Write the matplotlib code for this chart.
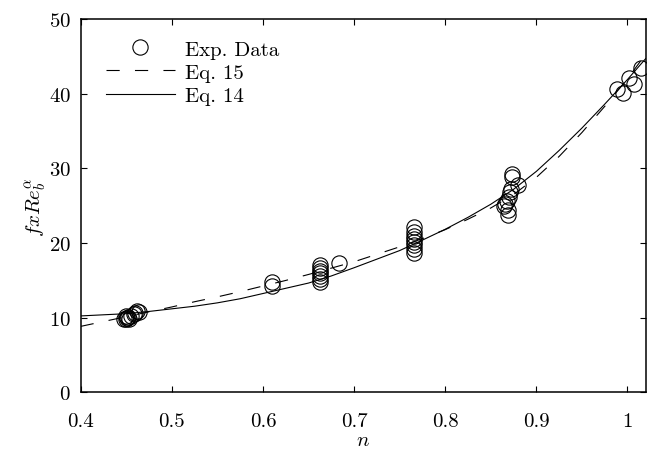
import numpy as np
import matplotlib
matplotlib.use('Agg')
import matplotlib.pyplot as plt

plt.rcParams['font.family'] = 'serif'
plt.rcParams['font.serif'] = ['cmr10']
plt.rcParams['mathtext.fontset'] = 'cm'
plt.rcParams['axes.formatter.use_mathtext'] = True
plt.rcParams['lines.scale_dashes'] = False

# experimental points
n_exp = [0.448, 0.450, 0.451, 0.452, 0.453, 0.450, 0.455, 0.458, 0.460, 0.462, 0.464,
         0.610, 0.610,
         0.663, 0.663, 0.663, 0.663, 0.663, 0.663, 0.663, 0.683,
         0.766, 0.766, 0.766, 0.766, 0.766, 0.766, 0.766, 0.766,
         0.873, 0.873, 0.872, 0.871, 0.870, 0.868, 0.866, 0.865, 0.869, 0.869, 0.880,
         0.988, 0.995, 1.002, 1.007, 1.015]
f_exp = [9.8, 9.9, 10.0, 10.1, 9.9, 10.2, 10.3, 10.5, 10.7, 10.9, 10.8,
         14.8, 14.3,
         14.8, 15.2, 15.6, 16.0, 16.3, 16.7, 17.1, 17.4,
         18.7, 19.2, 19.7, 20.1, 20.5, 21.0, 21.5, 22.1,
         29.3, 28.8, 27.3, 26.8, 26.2, 25.6, 25.3, 24.9, 24.4, 23.7, 27.8,
         40.6, 40.1, 42.1, 41.3, 43.4]

# Eq. 14 (solid)
n_eq14 = [0.400, 0.425, 0.450, 0.475, 0.500, 0.525, 0.550, 0.575, 0.600, 0.625,
          0.650, 0.675, 0.700, 0.725, 0.750, 0.775, 0.800, 0.825, 0.850, 0.875,
          0.900, 0.925, 0.950, 0.975, 1.000, 1.020]
f_eq14 = [10.25, 10.4, 10.55, 10.85, 11.2, 11.55, 12.0, 12.55, 13.25, 13.95,
          14.65, 15.6, 16.7, 17.85, 19.0, 20.4, 21.85, 23.45, 25.2, 27.2,
          29.6, 32.4, 35.4, 38.6, 41.9, 44.7]

# Eq. 15 (dashed)
n_eq15 = n_eq14
f_eq15 = [8.85, 9.5, 10.15, 10.8, 11.45, 12.15, 12.8, 13.5, 14.25, 15.0,
          15.8, 16.65, 17.5, 18.5, 19.5, 20.6, 21.8, 23.2, 24.7, 26.5,
          28.8, 31.6, 34.8, 38.3, 42.0, 45.3]

xticks = [0.4, 0.5, 0.6, 0.7, 0.8, 0.9, 1.0]
xticklabels = ['0.4', '0.5', '0.6', '0.7', '0.8', '0.9', '1']
yticks = [0, 10, 20, 30, 40, 50]

fig = plt.figure(figsize=(6.47, 4.6), dpi=100)
ax = fig.add_axes([0.1247, 0.1446, 0.998 - 0.1247, 0.9565 - 0.1446])

ax.plot(n_exp, f_exp, 'o', mfc='none', mec='k', ms=11, mew=0.8, label='Exp. Data')
ax.plot(n_eq15, f_eq15, color='k', lw=0.8, linestyle=(0, (9.5, 11)), label='Eq. 15')
ax.plot(n_eq14, f_eq14, color='k', lw=0.8, label='Eq. 14')

ax.set_xlim(0.4, 1.02)
ax.set_ylim(0, 50)
ax.set_xticks(xticks)
ax.set_xticklabels(xticklabels)
ax.set_yticks(yticks)
ax.tick_params(direction='in', length=4, width=0.8, top=True, right=True,
               labelsize=15)
ax.tick_params(axis='x', pad=14)
ax.tick_params(axis='y', pad=7)
for s in ax.spines.values():
    s.set_linewidth(1.1)

ax.set_xlabel('$n$', fontsize=15, labelpad=1)
ax.set_ylabel(r'$fxRe_b^{\alpha}$', fontsize=15, labelpad=0)

ax.legend(loc='upper left', bbox_to_anchor=(0.045, 0.944), frameon=False,
          fontsize=15, numpoints=1, handlelength=3.3, handletextpad=0.5,
          labelspacing=0.22, borderpad=0, borderaxespad=0)

fig.savefig('out.png', dpi=100)
